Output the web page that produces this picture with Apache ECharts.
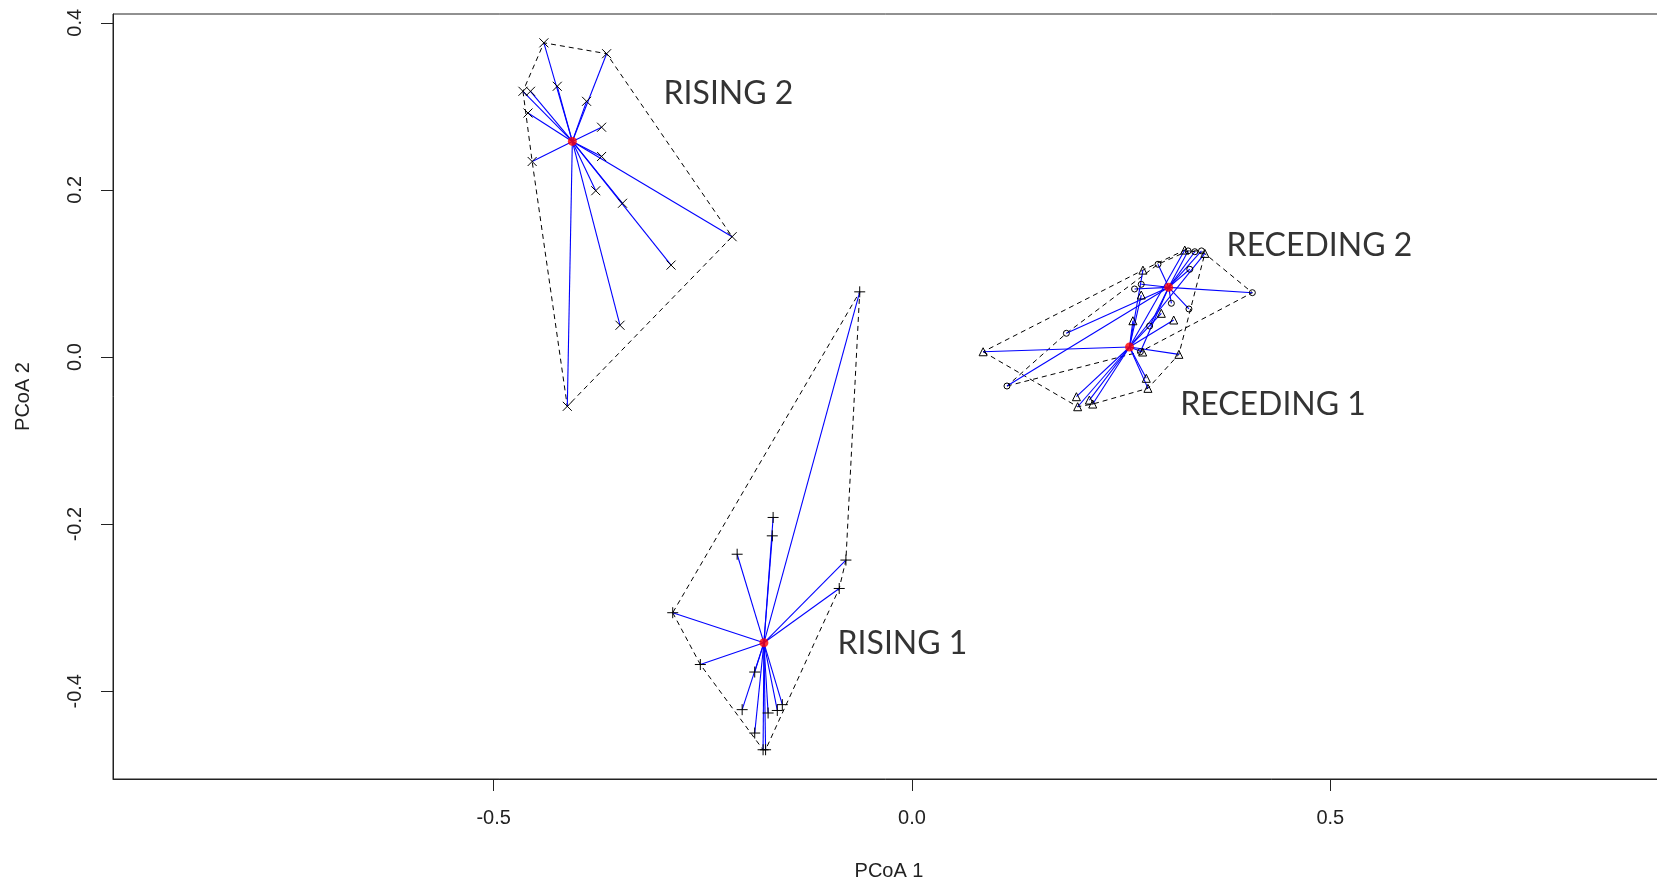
<!DOCTYPE html>
<html>
<head>
<meta charset="utf-8">
<script src="https://cdn.jsdelivr.net/npm/echarts@6/dist/echarts.min.js"></script>
<style>
  html, body { margin: 0; padding: 0; background: #ffffff; }
  #chart { width: 1657px; height: 883px; }
</style>
</head>
<body>
<div id="chart"></div>
<script>
// ---- Data (PCoA coordinates) ----
const rising2Points = [
  [-0.440, 0.376], [-0.365, 0.363], [-0.465, 0.318], [-0.456, 0.318],
  [-0.424, 0.324], [-0.389, 0.306], [-0.459, 0.292], [-0.371, 0.275],
  [-0.454, 0.234], [-0.371, 0.240], [-0.378, 0.199], [-0.346, 0.184],
  [-0.215, 0.144], [-0.288, 0.110], [-0.349, 0.038], [-0.412, -0.059]
];
const rising2Centroid = [-0.406, 0.258];

const rising1Points = [
  [-0.0625, 0.078], [-0.166, -0.192], [-0.167, -0.214], [-0.209, -0.236],
  [-0.079, -0.243], [-0.087, -0.277], [-0.286, -0.306], [-0.253, -0.368],
  [-0.188, -0.377], [-0.203, -0.422], [-0.172, -0.426], [-0.161, -0.423],
  [-0.155, -0.416], [-0.188, -0.450], [-0.178, -0.470], [-0.175, -0.470]
];
const rising1Centroid = [-0.177, -0.342];

const receding1Points = [
  [0.085, 0.0063], [0.264, 0.0434], [0.280, -0.0255], [0.282, -0.0375],
  [0.1965, -0.0475], [0.198, -0.0595], [0.212, -0.0515], [0.216, -0.0563],
  [0.2757, 0.006], [0.326, 0.128], [0.350, 0.124], [0.276, 0.104],
  [0.274, 0.0742], [0.298, 0.0523], [0.3128, 0.0443], [0.319, 0.0032]
];
const receding1Centroid = [0.260, 0.012];

const receding2Points = [
  [0.1135, -0.0347], [0.1845, 0.0284], [0.284, 0.0371], [0.294, 0.111],
  [0.330, 0.127], [0.338, 0.126], [0.346, 0.127], [0.332, 0.105],
  [0.266, 0.0814], [0.274, 0.087], [0.310, 0.0643], [0.331, 0.0575],
  [0.4068, 0.077], [0.273, 0.0063]
];
const receding2Centroid = [0.3068, 0.0834];

const groupLabels = [
  { name: 'RISING 2', value: [-0.297, 0.315] },
  { name: 'RECEDING 2', value: [0.376, 0.133] },
  { name: 'RECEDING 1', value: [0.3205, -0.057] },
  { name: 'RISING 1', value: [-0.089, -0.343] }
];

const xTicks = [-0.5, 0.0, 0.5];
const yTicks = [-0.4, -0.2, 0.0, 0.2, 0.4];
const xRange = [-0.955, 0.9];
const yRange = [-0.505, 0.4105];

// ---- helpers ----
function convexHull(pts) {
  const p = pts.slice().sort((a, b) => a[0] - b[0] || a[1] - b[1]);
  const cross = (o, a, b) => (a[0] - o[0]) * (b[1] - o[1]) - (a[1] - o[1]) * (b[0] - o[0]);
  const lower = [];
  for (const q of p) {
    while (lower.length >= 2 && cross(lower[lower.length - 2], lower[lower.length - 1], q) <= 0) lower.pop();
    lower.push(q);
  }
  const upper = [];
  for (let i = p.length - 1; i >= 0; i--) {
    const q = p[i];
    while (upper.length >= 2 && cross(upper[upper.length - 2], upper[upper.length - 1], q) <= 0) upper.pop();
    upper.push(q);
  }
  upper.pop(); lower.pop();
  const h = lower.concat(upper);
  h.push(h[0]);
  return h;
}
function hullSeries(pts) {
  return {
    type: 'line', data: convexHull(pts), symbol: 'none', silent: true, z: 2,
    lineStyle: { color: '#000', width: 1, type: [5, 4] }
  };
}
function spiderSeries(pts, c) {
  return {
    type: 'lines', coordinateSystem: 'cartesian2d', silent: true, z: 3,
    lineStyle: { color: '#0000ff', width: 1.1, opacity: 1 },
    data: pts.map(p => ({ coords: [p, c] }))
  };
}
function pointSeries(pts, symbol, size, fill) {
  return {
    type: 'scatter', data: pts, symbol: symbol, symbolSize: size, silent: true, z: 4,
    itemStyle: { color: fill || 'rgba(0,0,0,0)', borderColor: '#000', borderWidth: 1, opacity: 1 }
  };
}
function centroidSeries(c) {
  return {
    type: 'scatter', data: [c], symbol: 'circle', symbolSize: 9, silent: true, z: 5,
    itemStyle: { color: '#ff0000', borderWidth: 0 }
  };
}

const SYM_X = 'path://M0,0L10,10M10,0L0,10';
const SYM_PLUS = 'path://M5,0L5,10M0,5L10,5';
const SYM_TRI = 'path://M5,0L10,9L0,9Z';

const tickFont = "'Liberation Sans', Arial, sans-serif";

const chart = echarts.init(document.getElementById('chart'), null, { renderer: 'canvas' });
chart.setOption({
  animation: false,
  backgroundColor: '#ffffff',
  grid: {
    left: 113, top: 14, width: 1552, height: 765,
    show: true, borderColor: '#222', borderWidth: 1,
    containLabel: false, outerBoundsMode: 'none'
  },
  xAxis: {
    type: 'value', min: xRange[0], max: xRange[1],
    name: 'PCoA 1', nameLocation: 'middle', nameGap: 82,
    nameTextStyle: { fontFamily: tickFont, fontSize: 20, color: '#222' },
    axisLine: { show: true, onZero: false, lineStyle: { color: '#222', width: 1 } },
    axisTick: { show: true, length: 12, inside: false, customValues: xTicks, lineStyle: { color: '#222' } },
    axisLabel: {
      show: true, customValues: xTicks, margin: 29,
      formatter: v => v.toFixed(1),
      fontFamily: tickFont, fontSize: 20, color: '#222'
    },
    splitLine: { show: false }
  },
  yAxis: {
    type: 'value', min: yRange[0], max: yRange[1],
    name: 'PCoA 2', nameLocation: 'middle', nameGap: 80,
    nameTextStyle: { fontFamily: tickFont, fontSize: 20, color: '#222' },
    axisLine: { show: true, onZero: false, lineStyle: { color: '#222', width: 1 } },
    axisTick: { show: true, length: 12, inside: false, customValues: yTicks, lineStyle: { color: '#222' } },
    axisLabel: {
      show: true, customValues: yTicks, margin: 28, rotate: 90,
      formatter: v => v.toFixed(1),
      fontFamily: tickFont, fontSize: 20, color: '#222'
    },
    splitLine: { show: false }
  },
  series: [
    hullSeries(rising2Points),
    hullSeries(rising1Points),
    hullSeries(receding1Points),
    hullSeries(receding2Points),
    spiderSeries(rising2Points, rising2Centroid),
    spiderSeries(rising1Points, rising1Centroid),
    spiderSeries(receding1Points, receding1Centroid),
    spiderSeries(receding2Points, receding2Centroid),
    pointSeries(rising2Points, SYM_X, 9),
    pointSeries(rising1Points, SYM_PLUS, 11),
    pointSeries(receding1Points, SYM_TRI, 8),
    pointSeries(receding2Points, 'circle', 6),
    centroidSeries(rising2Centroid),
    centroidSeries(rising1Centroid),
    centroidSeries(receding1Centroid),
    centroidSeries(receding2Centroid),
    {
      type: 'scatter', data: groupLabels, symbolSize: 0, silent: true, z: 6,
      label: {
        show: true, position: 'right', distance: 0,
        formatter: p => p.name,
        fontFamily: 'Lato, "Open Sans", sans-serif', fontSize: 32, color: '#000'
      }
    }
  ]
});
</script>
</body>
</html>
